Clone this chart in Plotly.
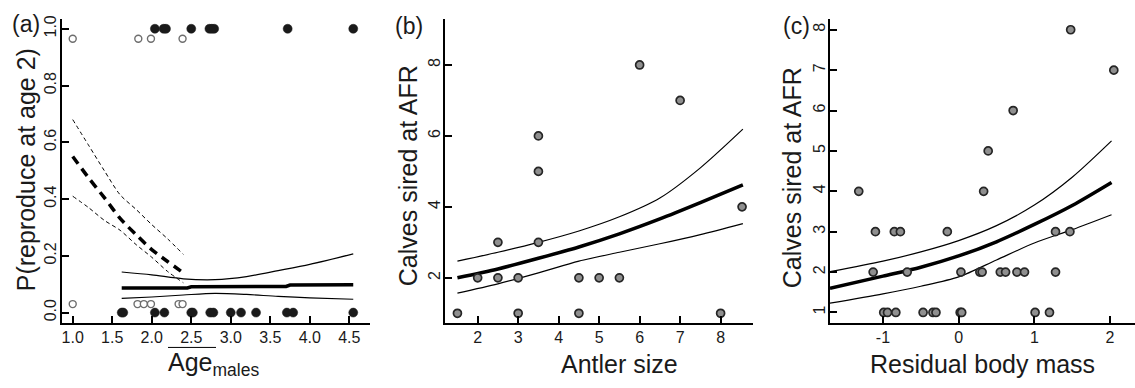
import plotly.graph_objects as go

W, H = 1135, 388

# ---------------- Panel (a) data ----------------
a_succ_x = [2.04, 2.15, 2.18, 2.50, 2.73, 2.76, 2.79, 3.72, 4.55]          # filled, y = 1
a_fail_x = [1.62, 1.64, 2.04, 2.16, 2.50, 2.52, 2.74, 2.78, 3.00, 3.13,
            3.32, 3.71, 3.79, 4.55]                                         # filled, y = 0
a_young_succ_x = [1.00, 1.83, 1.99, 2.39]                                   # open, y ~ 0.965
a_young_fail_x = [1.00, 1.82, 1.90, 1.99, 2.34, 2.39]                       # open, y ~ 0.03
a_young_succ_y = 0.965
a_young_fail_y = 0.03

a_young_line_x = [1.0, 1.2, 1.4, 1.6, 1.8, 2.0, 2.2, 2.4]
a_young_mean = [0.55, 0.475, 0.405, 0.332, 0.275, 0.222, 0.18, 0.14]
a_young_upper = [0.68, 0.59, 0.50, 0.415, 0.364, 0.31, 0.26, 0.205]
a_young_lower = [0.41, 0.37, 0.325, 0.29, 0.24, 0.195, 0.145, 0.105]

a_old_mean_x = [1.62, 2.45, 2.50, 3.70, 3.75, 4.55]
a_old_mean = [0.087, 0.087, 0.091, 0.092, 0.097, 0.098]
a_old_ci_x = [1.62, 2.0, 2.4, 2.8, 3.2, 3.6, 4.0, 4.55]
a_old_upper = [0.143, 0.133, 0.119, 0.116, 0.127, 0.148, 0.170, 0.207]
a_old_lower = [0.050, 0.055, 0.062, 0.068, 0.064, 0.057, 0.052, 0.047]

a_xticks = [1.0, 1.5, 2.0, 2.5, 3.0, 3.5, 4.0, 4.5]
a_xticklabels = ["1.0", "1.5", "2.0", "2.5", "3.0", "3.5", "4.0", "4.5"]
a_yticks = [0.0, 0.2, 0.4, 0.6, 0.8, 1.0]
a_yticklabels = ["0.0", "0.2", "0.4", "0.6", "0.8", "1.0"]

# ---------------- Panel (b) data ----------------
b_x = [6, 7, 3.5, 3.5, 8.53, 2.5, 3.5, 2, 2.5, 3, 4.5, 5, 5.5, 1.5, 3, 4.5, 8]
b_y = [8, 7, 6, 5, 4, 3, 3, 2, 2, 2, 2, 2, 2, 1, 1, 1, 1]
b_line_x = [1.5, 2.5, 3.5, 4.5, 5.5, 6.5, 7.5, 8.55]
b_mean = [2.0, 2.25, 2.55, 2.87, 3.24, 3.66, 4.12, 4.62]
b_upper = [2.47, 2.72, 3.0, 3.32, 3.72, 4.25, 5.1, 6.19]
b_lower = [1.57, 1.83, 2.14, 2.47, 2.72, 2.96, 3.22, 3.53]
b_xticks = [2, 3, 4, 5, 6, 7, 8]
b_xticklabels = ["2", "3", "4", "5", "6", "7", "8"]
b_yticks = [2, 4, 6, 8]
b_yticklabels = ["2", "4", "6", "8"]

# ---------------- Panel (c) data ----------------
c_x = [1.48, 2.05, 0.72, 0.39, -1.32, 0.33,
       -1.10, -0.85, -0.77, -0.15, 1.28, 1.47,
       -1.13, -0.68, 0.03, 0.28, 0.31, 0.55, 0.62, 0.77, 0.87, 1.28,
       -0.99, -0.94, -0.83, -0.47, -0.34, -0.30, 0.02, 0.04, 1.01, 1.20]
c_y = [8, 7, 6, 5, 4, 4,
       3, 3, 3, 3, 3, 3,
       2, 2, 2, 2, 2, 2, 2, 2, 2, 2,
       1, 1, 1, 1, 1, 1, 1, 1, 1, 1]
c_line_x = [-1.7, -1.0, -0.5, 0.0, 0.5, 1.0, 1.5, 2.02]
c_mean = [1.60, 1.90, 2.12, 2.40, 2.75, 3.18, 3.65, 4.22]
c_upper = [2.01, 2.27, 2.50, 2.78, 3.15, 3.66, 4.35, 5.25]
c_lower = [1.23, 1.46, 1.65, 1.88, 2.30, 2.72, 3.05, 3.42]
c_xticks = [-1, 0, 1, 2]
c_xticklabels = ["-1", "0", "1", "2"]
c_yticks = [1, 2, 3, 4, 5, 6, 7, 8]
c_yticklabels = ["1", "2", "3", "4", "5", "6", "7", "8"]

FONT = "Liberation Sans, Arial, sans-serif"
TXT = "#1a1a1a"
DARK = "#1a1a1a"

fig = go.Figure()

def line(x, y, xa, ya, width, dash=None, shape="spline"):
    fig.add_trace(go.Scatter(x=x, y=y, xaxis=xa, yaxis=ya, mode="lines",
                             line=dict(color="black", width=width, dash=dash,
                                       shape=shape, smoothing=0.8),
                             hoverinfo="skip", showlegend=False))

# panel a
line(a_young_line_x, a_young_upper, "x", "y", 1, "4px,3px")
line(a_young_line_x, a_young_lower, "x", "y", 1, "4px,3px")
line(a_young_line_x, a_young_mean, "x", "y", 3.5, "9px,6px")
line(a_old_ci_x, a_old_upper, "x", "y", 1.2)
line(a_old_ci_x, a_old_lower, "x", "y", 1.2)
line(a_old_mean_x, a_old_mean, "x", "y", 3.5, shape="linear")

fig.add_trace(go.Scatter(x=a_young_succ_x, y=[a_young_succ_y] * len(a_young_succ_x),
                         xaxis="x", yaxis="y", mode="markers", showlegend=False,
                         marker=dict(size=7, color="white",
                                     line=dict(color="#6e6e6e", width=1.4))))
fig.add_trace(go.Scatter(x=a_young_fail_x, y=[a_young_fail_y] * len(a_young_fail_x),
                         xaxis="x", yaxis="y", mode="markers", showlegend=False,
                         marker=dict(size=7, color="white",
                                     line=dict(color="#6e6e6e", width=1.4))))
fig.add_trace(go.Scatter(x=a_succ_x, y=[1] * len(a_succ_x), xaxis="x", yaxis="y",
                         mode="markers", showlegend=False,
                         marker=dict(size=9, color=DARK, line=dict(color=DARK, width=0.5))))
fig.add_trace(go.Scatter(x=a_fail_x, y=[0] * len(a_fail_x), xaxis="x", yaxis="y",
                         mode="markers", showlegend=False,
                         marker=dict(size=9, color=DARK, line=dict(color=DARK, width=0.5))))

# panel b
line(b_line_x, b_upper, "x2", "y2", 1.2)
line(b_line_x, b_lower, "x2", "y2", 1.2)
line(b_line_x, b_mean, "x2", "y2", 3.5)
fig.add_trace(go.Scatter(x=b_x, y=b_y, xaxis="x2", yaxis="y2", mode="markers",
                         showlegend=False,
                         marker=dict(size=8, color="#8f8f8f",
                                     line=dict(color="#262626", width=1.7))))

# panel c
line(c_line_x, c_upper, "x3", "y3", 1.2)
line(c_line_x, c_lower, "x3", "y3", 1.2)
line(c_line_x, c_mean, "x3", "y3", 3.5)
fig.add_trace(go.Scatter(x=c_x, y=c_y, xaxis="x3", yaxis="y3", mode="markers",
                         showlegend=False,
                         marker=dict(size=8, color="#8f8f8f",
                                     line=dict(color="#262626", width=1.7))))

ydom = [(H - 322.7) / H, (H - 15) / H]

def xax(domain, rng, tickvals, ticktext, anchor):
    return dict(domain=domain, range=rng, anchor=anchor, tickmode="array",
                tickvals=tickvals, ticktext=ticktext, showgrid=False, zeroline=False,
                showline=True, linecolor="black", linewidth=2, ticks="inside",
                ticklen=7, tickwidth=1.5, tickcolor="black",
                tickfont=dict(family=FONT, size=16, color=TXT), ticklabelstandoff=-2)

def yax(rng, tickvals, ticktext, anchor):
    return dict(domain=ydom, range=rng, anchor=anchor, tickmode="array",
                tickvals=tickvals, ticktext=ticktext, showgrid=False, zeroline=False,
                showline=True, linecolor="black", linewidth=2, ticks="inside",
                ticklen=7, tickwidth=1.5, tickcolor="black", tickangle=-90,
                tickfont=dict(family=FONT, size=16, color=TXT), ticklabelstandoff=-3)

fig.update_layout(
    width=W, height=H, margin=dict(l=0, r=0, t=0, b=0),
    paper_bgcolor="white", plot_bgcolor="white", showlegend=False,
    xaxis=xax([61.5 / W, 370 / W], [0.858, 4.762], a_xticks, a_xticklabels, "y"),
    yaxis=yax([-0.038, 1.035], a_yticks, a_yticklabels, "x"),
    xaxis2=xax([445 / W, 753 / W], [1.193, 8.80], b_xticks, b_xticklabels, "y2"),
    yaxis2=yax([0.716, 9.30], b_yticks, b_yticklabels, "x2"),
    xaxis3=xax([830 / W, 1.0], [-1.70, 2.33], c_xticks, c_xticklabels, "y3"),
    yaxis3=yax([0.73, 8.27], c_yticks, c_yticklabels, "x3"),
)

def ann(text, x, y, size, angle=0):
    fig.add_annotation(text=text, x=x / W, y=1 - y / H, xref="paper", yref="paper",
                       showarrow=False, textangle=angle, xanchor="center",
                       yanchor="middle",
                       font=dict(family=FONT, size=size, color=TXT))

ann("(a)", 26, 20, 23)
ann("(b)", 409, 22, 23)
ann("(c)", 796, 22, 23)
ann("P(reproduce at age 2)", 26, 168, 25, -90)
ann("Calves sired at AFR", 408, 174, 25, -90)
ann("Calves sired at AFR", 792, 176, 25, -90)
ann("Age<sub>males</sub>", 213, 364, 25)
ann("Antler size", 619, 364, 25)
ann("Residual body mass", 982, 364, 25)

# stray underline beneath the 2.5 tick label in panel (a)
fig.add_shape(type="line", xref="paper", yref="paper",
              x0=168 / W, x1=216 / W, y0=1 - 347 / H, y1=1 - 347 / H,
              line=dict(color="black", width=1))

fig.write_html("out.html")
